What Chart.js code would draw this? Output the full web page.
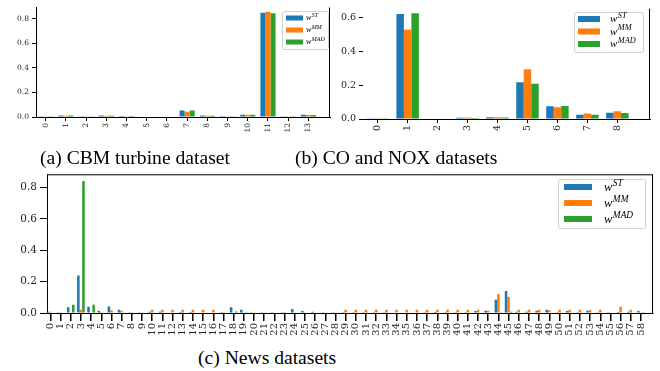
<!DOCTYPE html>
<html>
<head>
<meta charset="utf-8">
<script src="https://cdn.jsdelivr.net/npm/chart.js@4.4.1/dist/chart.umd.min.js"></script>
<style>
  body { margin: 0; background: #fff; }
  #wrap { position: relative; width: 660px; height: 371px; overflow: hidden; }
  canvas { position: absolute; }
  .cap { position: absolute; font-family: "Liberation Serif", serif; font-size: 19.6px; line-height: 20px; color: #000; white-space: nowrap; }
</style>
</head>
<body>
<div id="wrap">
  <canvas id="cbmCanvas" width="332" height="140" style="left:0;top:0"></canvas>
  <canvas id="coCanvas" width="330" height="140" style="left:330px;top:0"></canvas>
  <canvas id="newsCanvas" width="660" height="175" style="left:0;top:165px"></canvas>
  <div class="cap" style="left:40px;top:148px">(a) CBM turbine dataset</div>
  <div class="cap" style="left:295px;top:148px">(b) CO and NOX datasets</div>
  <div class="cap" style="left:198px;top:348px">(c) News datasets</div>
</div>
<script>
const seriesNames = ["ST", "MM", "MAD"];
const seriesColors = ["#1f77b4", "#ff7f0e", "#2ca02c"];

// (a) CBM turbine
const cbmLabels = [0,1,2,3,4,5,6,7,8,9,10,11,12,13];
const cbmST  = [0.003,0.012,0.002,0.012,0.008,0.004,0.004,0.052,0.012,0.008,0.019,0.849,0.002,0.018];
const cbmMM  = [0.003,0.011,0.002,0.011,0.007,0.004,0.004,0.043,0.011,0.007,0.018,0.857,0.002,0.017];
const cbmMAD = [0.003,0.012,0.002,0.011,0.008,0.004,0.004,0.053,0.011,0.007,0.018,0.846,0.002,0.017];

// (b) CO and NOX
const coLabels = [0,1,2,3,4,5,6,7,8];
const coST  = [0.004,0.620,0.003,0.008,0.010,0.217,0.076,0.025,0.037];
const coMM  = [0.004,0.527,0.003,0.009,0.010,0.294,0.070,0.033,0.046];
const coMAD = [0.004,0.625,0.003,0.006,0.009,0.209,0.077,0.025,0.035];

// (c) News
const newsLabels = [];
for (let i = 0; i <= 58; i++) newsLabels.push(i);
const newsST = [0.008,0.002,0.036,0.240,0.040,0.015,0.042,0.021,0.002,0.002,
                0.008,0.008,0.003,0.006,0.006,0.003,0.003,0.002,0.036,0.021,
                0.001,0.001,0.001,0.002,0.025,0.013,0.008,0.002,0.004,0.002,
                0.002,0.002,0.002,0.004,0.003,0.003,0.003,0.004,0.006,0.004,
                0.004,0.002,0.013,0.015,0.084,0.141,0.008,0.008,0.015,0.021,
                0.004,0.013,0.004,0.015,0.004,0.004,0.006,0.008,0.013];
const newsMM = [0.008,0.002,0.002,0.021,0.003,0.006,0.017,0.015,0.002,0.002,
                0.021,0.021,0.021,0.021,0.021,0.021,0.021,0.006,0.003,0.005,
                0.002,0.002,0.002,0.006,0.004,0.004,0.002,0.002,0.002,0.021,
                0.021,0.021,0.021,0.021,0.021,0.021,0.021,0.021,0.021,0.021,
                0.021,0.021,0.021,0.015,0.122,0.103,0.021,0.021,0.021,0.017,
                0.021,0.021,0.021,0.019,0.021,0.004,0.040,0.021,0.001];
const newsMAD = [0,0,0.053,0.842,0.053,0,0,0,0,0,
                 0,0,0,0,0,0,0,0,0.010,0.002,
                 0,0,0,0,0,0,0,0,0,0,
                 0,0,0,0,0,0,0,0,0,0,
                 0,0,0,0,0.002,0.008,0,0,0,0,
                 0,0,0,0,0,0,0,0,0.002];

const serif = "Liberation Serif";
const tickFont = "DejaVu Serif";

// legend with w^{..} labels, drawn in the top right of the plot area
const supLegend = {
    id: "supLegend",
    afterDraw(chart, args, o) {
        const ctx = chart.ctx;
        const area = chart.chartArea;
        const x = Math.round(area.right - o.right - o.width);
        const y = Math.round(area.top + o.top);
        ctx.save();
        ctx.fillStyle = "rgba(255,255,255,0.85)";
        ctx.strokeStyle = "#d0d0d0";
        ctx.lineWidth = 1;
        ctx.beginPath();
        ctx.roundRect(x + 0.5, y + 0.5, o.width, o.height, 2);
        ctx.fill();
        ctx.stroke();
        chart.data.datasets.forEach((ds, i) => {
            const ry = y + o.rowTop + i * o.rowGap;
            ctx.fillStyle = ds.backgroundColor;
            ctx.fillRect(x + o.patchX, ry - o.patchH / 2, o.patchW, o.patchH);
            ctx.fillStyle = "#000";
            ctx.textBaseline = "alphabetic";
            ctx.font = "italic " + o.size + "px " + serif;
            const tx = x + o.textX;
            const base = ry + o.size * 0.3;
            ctx.fillText("w", tx, base);
            const ww = ctx.measureText("w").width;
            ctx.font = "italic " + (o.size * 0.75) + "px " + serif;
            ctx.fillText(ds.label, tx + ww + 0.5, base - o.size * 0.4);
        });
        ctx.restore();
    }
};

// extra spines on top / right
const spines = {
    id: "spines",
    afterDraw(chart, args, o) {
        const ctx = chart.ctx;
        const a = chart.chartArea;
        ctx.save();
        ctx.strokeStyle = "#000";
        ctx.lineWidth = o.width || 1;
        ctx.beginPath();
        if (o.top) { ctx.moveTo(a.left, a.top + 0.5); ctx.lineTo(a.right, a.top + 0.5); }
        if (o.right) { ctx.moveTo(a.right - 0.5, a.top); ctx.lineTo(a.right - 0.5, a.bottom); }
        ctx.stroke();
        ctx.restore();
    }
};

function makeChart(id, labels, series, c) {
    return new Chart(document.getElementById(id), {
        type: "bar",
        data: {
            labels: labels,
            datasets: series.map((d, i) => ({
                label: seriesNames[i],
                data: d,
                backgroundColor: seriesColors[i],
                borderWidth: 0,
                categoryPercentage: 0.75,
                barPercentage: 1.0
            }))
        },
        options: {
            responsive: false,
            devicePixelRatio: 1,
            animation: false,
            layout: { padding: c.padding },
            plugins: {
                legend: { display: false },
                tooltip: { enabled: false },
                supLegend: c.legend,
                spines: c.spines
            },
            scales: {
                x: {
                    type: "linear",
                    offset: false,
                    min: c.xMin,
                    max: c.xMax,
                    afterFit: s => { s.height = c.xHeight; },
                    afterBuildTicks: s => {
                        s.ticks = labels.map(v => ({ value: v }));
                    },
                    border: { display: true, color: "#000", width: c.lw },
                    grid: { display: true, offset: false, drawOnChartArea: false, drawTicks: true,
                            tickLength: c.xTick, color: "#000", lineWidth: c.xTickW },
                    ticks: {
                        autoSkip: false, minRotation: 90, maxRotation: 90, padding: 2,
                        color: "#222", font: { family: tickFont, size: c.xFont },
                        callback: v => String(v)
                    }
                },
                y: {
                    min: 0,
                    max: c.yMax,
                    afterFit: s => { s.width = c.yWidth; },
                    border: { display: c.yBorder, color: "#000", width: c.lw },
                    grid: { display: true, drawOnChartArea: false, drawTicks: true,
                            tickLength: c.yTick, color: "#000", lineWidth: c.lw },
                    ticks: {
                        stepSize: 0.2, includeBounds: false, padding: 3,
                        color: "#222", font: { family: tickFont, size: c.yFont },
                        callback: v => v.toFixed(1)
                    }
                }
            }
        },
        plugins: [supLegend, spines]
    });
}

makeChart("cbmCanvas", cbmLabels, [cbmST, cbmMM, cbmMAD], {
    padding: { left: 0, right: 2, top: 7, bottom: 0 },
    xMin: -0.48, xMax: 14.07, yMax: 0.892,
    xHeight: 23, yWidth: 36, xTick: 4, yTick: 4, xTickW: 1, lw: 1,
    xFont: 7.5, yFont: 7.5, yBorder: true,
    legend: { right: 2, top: 3, width: 46, height: 38, rowTop: 7, rowGap: 12,
              patchX: 4, patchW: 17, patchH: 5, textX: 24, size: 8 },
    spines: { top: false, right: true }
});

makeChart("coCanvas", coLabels, [coST, coMM, coMAD], {
    padding: { left: 0, right: 10, top: 7, bottom: 0 },
    xMin: -0.49, xMax: 9.09, yMax: 0.652,
    xHeight: 21, yWidth: 33, xTick: 4, yTick: 4, xTickW: 1, lw: 1,
    xFont: 9.5, yFont: 9.5, yBorder: false,
    legend: { right: 7, top: 3, width: 69, height: 40, rowTop: 7, rowGap: 12.5,
              patchX: 4, patchW: 22, patchH: 6, textX: 36, size: 11 },
    spines: { top: false, right: true }
});

makeChart("newsCanvas", newsLabels, [newsST, newsMM, newsMAD], {
    padding: { left: 0, right: 7, top: 8, bottom: 0 },
    xMin: -0.33, xMax: 59.18, yMax: 0.885,
    xHeight: 27, yWidth: 47, xTick: 8, yTick: 7, xTickW: 1.5, lw: 1,
    xFont: 10, yFont: 10.5, yBorder: true,
    legend: { right: 8, top: 5, width: 87, height: 49, rowTop: 8, rowGap: 16,
              patchX: 6, patchW: 28, patchH: 6, textX: 46, size: 12.5 },
    spines: { top: true, right: true }
});
</script>
</body>
</html>
